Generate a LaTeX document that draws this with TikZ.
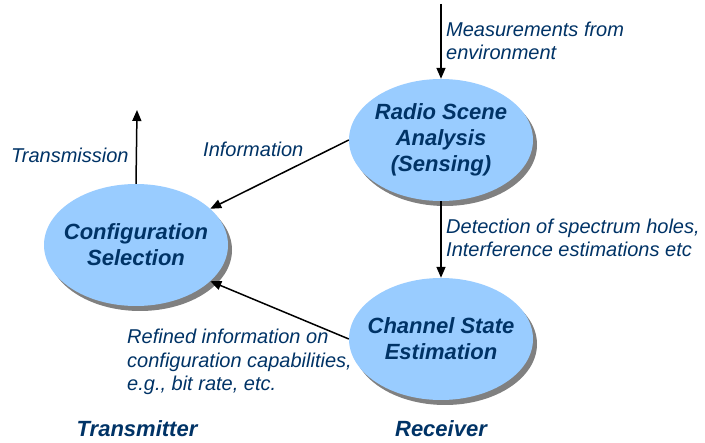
\documentclass[tikz,border=0pt]{standalone}
\usepackage{fontspec}
\setmainfont{Liberation Sans}
\usetikzlibrary{shapes.geometric,shadows,arrows.meta}
\definecolor{navy}{HTML}{003366}
\definecolor{bubblefill}{HTML}{99CCFF}
\begin{document}
\begin{tikzpicture}[x=1pt,y=-1pt,
  bubble/.style={ellipse,fill=bubblefill,minimum width=184pt,minimum height=122pt,inner sep=0pt,
    drop shadow={shadow xshift=4pt,shadow yshift=-5pt,fill=black!50,opacity=1}},
  bubbletext/.style={align=center,text=navy,font=\fontsize{22}{26}\selectfont\bfseries\itshape},
  lbl/.style={align=left,text=navy,font=\fontsize{20}{23.5}\selectfont\itshape,inner sep=0pt},
  side/.style={text=navy,font=\fontsize{22}{26}\selectfont\bfseries\itshape,inner sep=0pt},
  arr/.style={line width=1.5pt,-{Triangle[length=11pt,width=9pt]}}]
\useasboundingbox[fill=white] (0,0) rectangle (705,443);
\node[bubble] (radio) at (441,140) {};
\node[bubbletext] (radiot) at (radio) {Radio Scene\\Analysis\\(Sensing)};
\node[bubble] (config) at (136,245) {};
\node[bubbletext] (configt) at (config) {Configuration\\Selection};
\node[bubble] (channel) at (441,339) {};
\node[bubbletext] (channelt) at (channel) {Channel State\\Estimation};
\coordinate (src) at (441,4);
\coordinate (tx) at (137,110);
\draw[arr] (src) -- (radio.north);
\draw[arr] (config.north) -- (tx);
\draw[arr] (radio.west) -- (config.26);
\draw[arr] (radio.south) -- (channel.north);
\draw[arr] (channel.west) -- (config.-26);
\node[lbl,anchor=west] (meas) at (446,41) {Measurements from\\environment};
\node[lbl,anchor=west] (trans) at (11,155) {Transmission};
\node[lbl,anchor=west] (info) at (203,149) {Information};
\node[lbl,anchor=west] (det) at (446,238) {Detection of spectrum holes,\\Interference estimations etc};
\node[lbl,anchor=west] (ref) at (127,362) {Refined information on\\configuration capabilities,\\e.g., bit rate, etc.};
\node[side] (txl) at (137,429) {Transmitter};
\node[side] (rxl) at (441,429) {Receiver};
\end{tikzpicture}
\end{document}
